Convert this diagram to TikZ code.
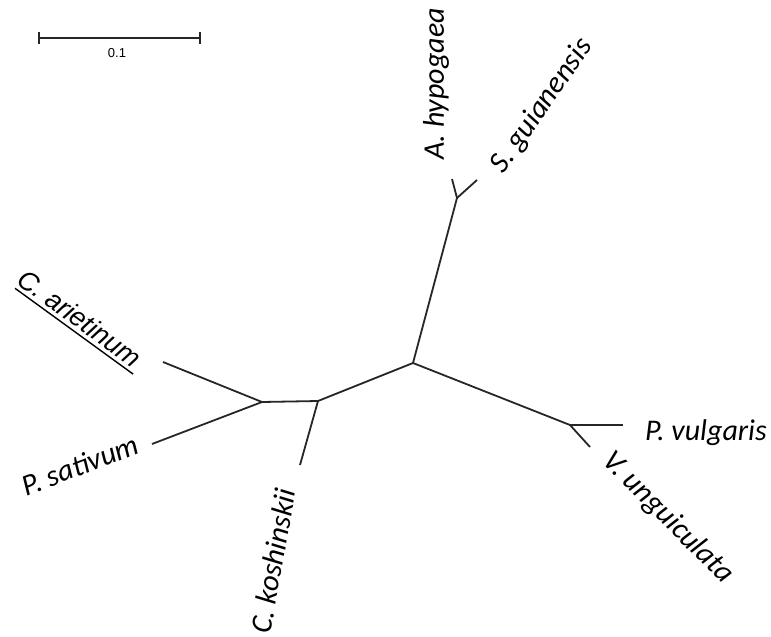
\documentclass[tikz,border=0pt]{standalone}
\usepackage{fontspec}
\newfontfamily\carl{Carlito}
\newfontfamily\ars{Liberation Sans}
\begin{document}
\begin{tikzpicture}[x=1pt,y=-1pt,
  br/.style={line width=1.8pt,black!85},
  tax/.style={font=\carl\itshape\fontsize{30}{30}\selectfont,inner sep=0pt,anchor=center},
  taxa/.style={font=\ars\itshape\fontsize{27}{27}\selectfont,inner sep=0pt,anchor=center}]
\useasboundingbox (0,0) rectangle (771,637);
% scale bar
\coordinate (sb1) at (39,38);
\coordinate (sb2) at (200,38);
\draw[br] (sb1) -- (sb2);
\draw[br] ([yshift=-6pt]sb1) -- ([yshift=6pt]sb1);
\draw[br] ([yshift=-6pt]sb2) -- ([yshift=6pt]sb2);
\node[font=\ars\fontsize{13}{13}\selectfont,inner sep=0pt] (sbl) at (117,53) {0.1};
% tree
\coordinate (R) at (413,363);
\coordinate (N1) at (457,198);
\coordinate (hyp) at (452,179);
\coordinate (gui) at (477,180);
\coordinate (N2) at (570,425);
\coordinate (vul) at (623,425);
\coordinate (ung) at (590,447);
\coordinate (N3) at (318,401);
\coordinate (kos) at (300,465);
\coordinate (N4) at (262,402);
\coordinate (ari) at (163,362);
\coordinate (sat) at (152,444);
\draw[br] (R) -- (N1);
\draw[br] (N1) -- (hyp);
\draw[br] (N1) -- (gui);
\draw[br] (R) -- (N2);
\draw[br] (N2) -- (vul);
\draw[br] (N2) -- (ung);
\draw[br] (R) -- (N3);
\draw[br] (N3) -- (kos);
\draw[br] (N3) -- (N4);
\draw[br] (N4) -- (ari);
\draw[br] (N4) -- (sat);
% labels
\node[tax,rotate=90] (lhyp) at (436,84) {A. hypogaea};
\node[tax,rotate=55] (lgui) at (542,106) {S. guianensis};
\node[taxa,rotate=-36] (lari) at (80,318) {C. arietinum};
\draw[line width=1.4pt] ([yshift=-5pt]lari.south west) -- ([yshift=-5pt]lari.south east);
\node[tax,rotate=21] (lsat) at (80,465) {P. sativum};
\node[tax,rotate=80] (lkos) at (273,561) {C. koshinskii};
\node[tax] (lvul) at (706,433) {P. vulgaris};
\node[tax,rotate=-45] (lung) at (668,518) {V. unguiculata};
\end{tikzpicture}
\end{document}
